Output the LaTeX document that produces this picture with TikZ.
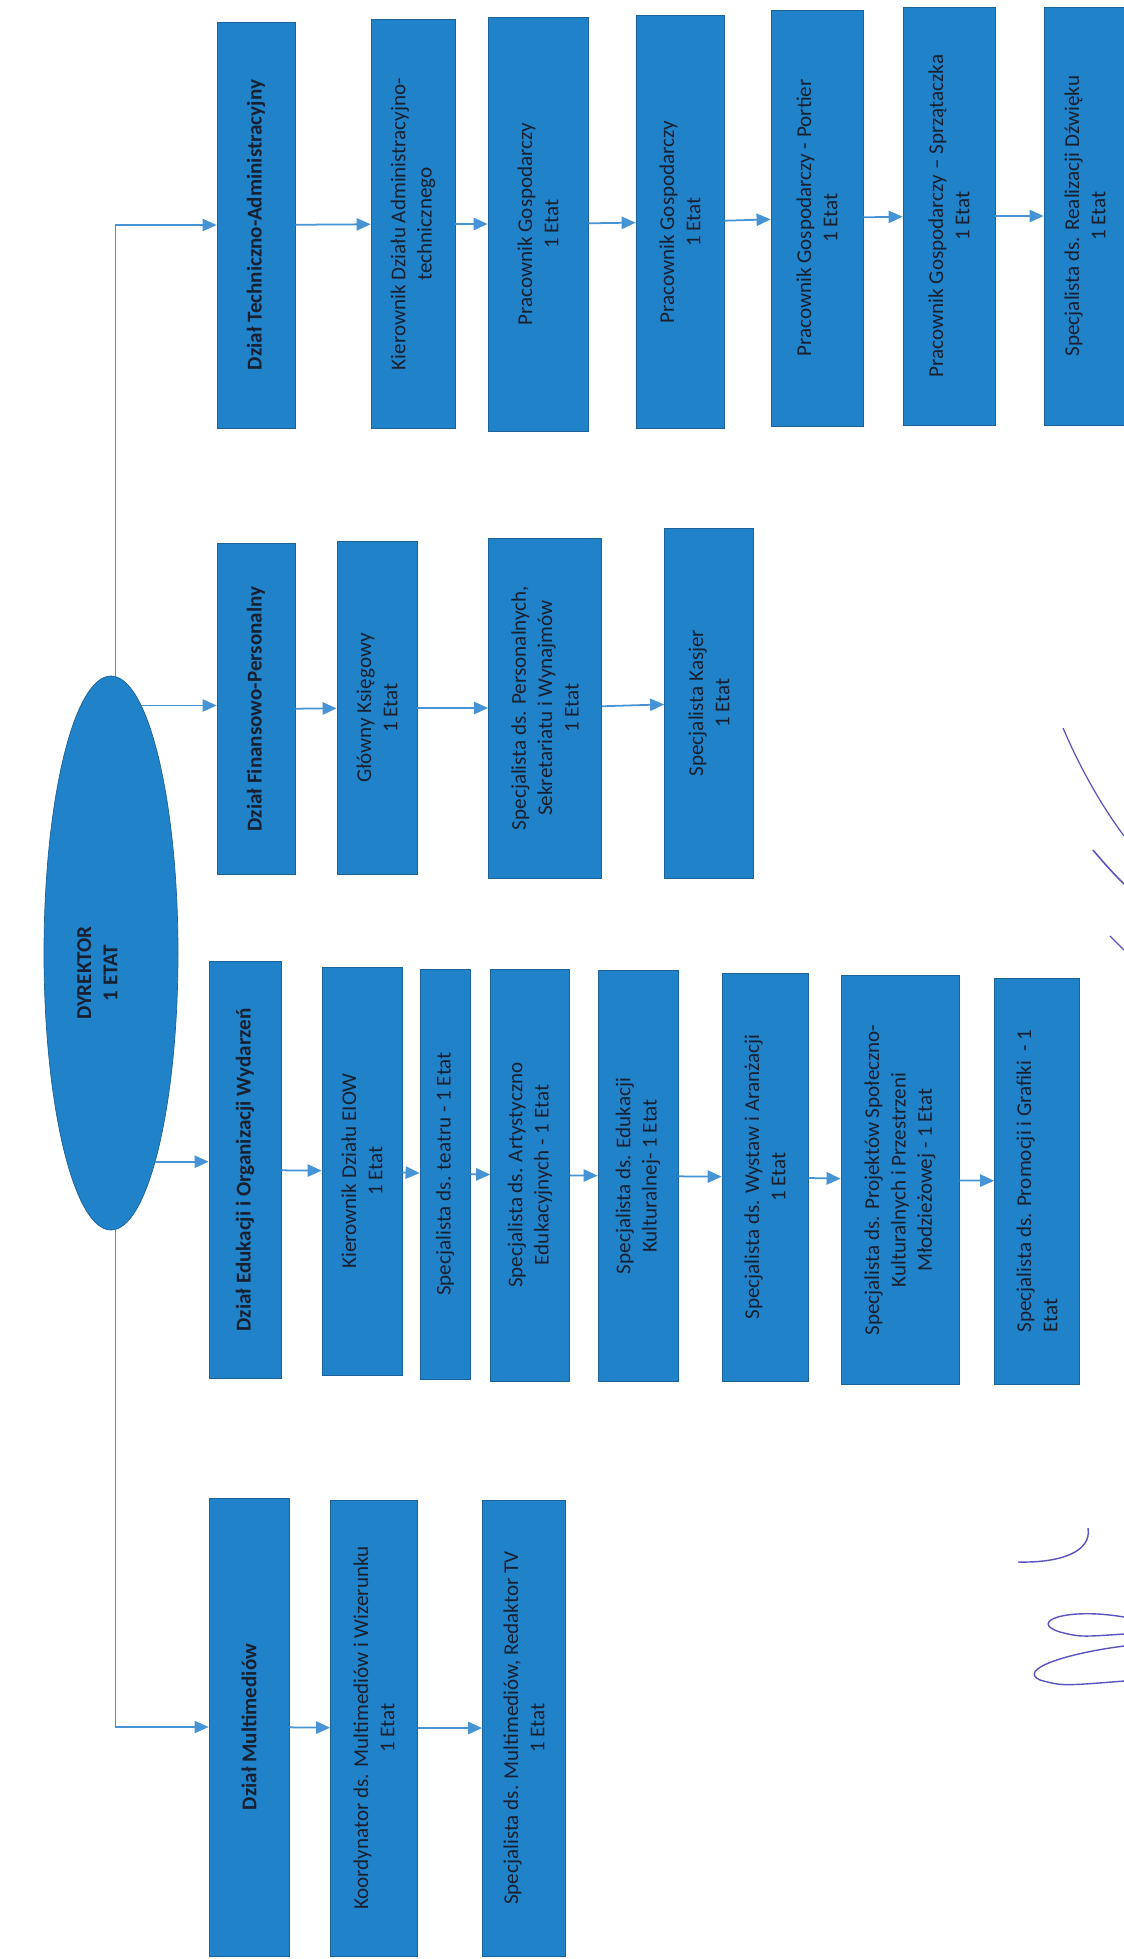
\documentclass[tikz,border=0pt]{standalone}
\usepackage{fontspec}
\setmainfont{Carlito}
\usetikzlibrary{arrows.meta,shapes.geometric}
\definecolor{orgblue}{RGB}{32,130,200}
\definecolor{orgedge}{RGB}{28,98,155}
\definecolor{orgtext}{RGB}{24,32,48}
\definecolor{orglink}{RGB}{70,148,214}
\definecolor{orgink}{RGB}{92,84,190}

\begin{document}
\begin{tikzpicture}[x=0.2mm, y=-0.2mm,
    stanowisko/.style={rotate=90, draw=orgedge, line width=0.4pt, fill=orgblue, text=orgtext,
      align=center, inner sep=1pt, font=\fontsize{12}{15}\selectfont},
    dzial/.style={stanowisko, font=\fontsize{12}{15}\selectfont\bfseries},
    rozm/.style 2 args={minimum width=#1*0.2mm, minimum height=#2*0.2mm},
    link/.style={orglink, line width=1pt, -{Triangle[length=8pt,width=7pt]}},
    pion/.style={link, line width=0.6pt}]
    % Tlo i rozmiar strony
    \fill[white] (0,0) rectangle (1124,1959);
    \useasboundingbox (0,0) rectangle (1124,1959);

    % Dyrektor
    \node[ellipse, fill=orgblue, draw=orgedge, minimum width=134*0.2mm, minimum height=554*0.2mm,
      inner sep=0pt, text=orgtext, font=\fontsize{12}{15}\selectfont\bfseries] (dyr) at (111,953)
      {\rotatebox{90}{\begin{tabular}{@{}c@{}}DYREKTOR\\1 ETAT\end{tabular}\hspace*{8mm}\rule[-9mm]{0pt}{9mm}}};

    % Dzial Techniczno-Administracyjny
    \node[dzial, rozm={406}{78}] (a0) at (256,225) {Dział Techniczno-Administracyjny};
    \node[stanowisko, rozm={409}{84}] (a1) at (413,224) {Kierownik Działu Administracyjno-\\technicznego};
    \node[stanowisko, rozm={414}{100}] (a2) at (538,224) {Pracownik Gospodarczy\\1 Etat};
    \node[stanowisko, rozm={413}{88}] (a3) at (680,222) {Pracownik Gospodarczy\\1 Etat};
    \node[stanowisko, rozm={416}{92}] (a4) at (817,218) {Pracownik Gospodarczy - Portier\\1 Etat};
    \node[stanowisko, rozm={418}{92}] (a5) at (949,216) {Pracownik Gospodarczy – Sprzątaczka\\1 Etat};
    \node[stanowisko, rozm={418}{82}] (a6) at (1085,216) {Specjalista ds. Realizacji Dźwięku\\1 Etat};

    % Dzial Finansowo-Personalny
    \node[dzial, rozm={331}{78}] (b0) at (256,709) {Dział Finansowo-Personalny};
    \node[stanowisko, rozm={333}{80}] (b1) at (377,708) {Główny Księgowy\\1 Etat};
    \node[stanowisko, rozm={340}{113}] (b2) at (545,708) {Specjalista ds. Personalnych,\\Sekretariatu i Wynajmów\\1 Etat};
    \node[stanowisko, rozm={350}{89}] (b3) at (709,703) {Specjalista Kasjer\\1 Etat};

    % Dzial Edukacji i Organizacji Wydarzen
    \node[dzial, rozm={417}{72}] (c0) at (245,1170) {Dział Edukacji i Organizacji Wydarzeń};
    \node[stanowisko, rozm={408}{80}] (c1) at (362,1171) {Kierownik Działu EIOW\\1 Etat};
    \node[stanowisko, rozm={410}{50}] (c2) at (445,1174) {Specjalista ds. teatru - 1 Etat};
    \node[stanowisko, rozm={412}{79}] (c3) at (530,1175) {Specjalista ds. Artystyczno\\Edukacyjnych - 1 Etat};
    \node[stanowisko, rozm={411}{80}] (c4) at (638,1176) {Specjalista ds. Edukacji\\Kulturalnej- 1 Etat};
    \node[stanowisko, rozm={408}{86}] (c5) at (765,1177) {Specjalista ds. Wystaw i Aranżacji\\1 Etat};
    \node[stanowisko, rozm={409}{118}] (c6) at (900,1180) {Specjalista ds. Projektów Społeczno-\\Kulturalnych i Przestrzeni\\Młodzieżowej - 1 Etat};
    \node[stanowisko, rozm={406}{85}, align=left] (c7) at (1037,1181) {Specjalista ds. Promocji i Grafiki~~- 1\\Etat};

    % Dzial Multimediow
    \node[dzial, rozm={458}{80}] (d0) at (249,1727) {Dział Multimediów};
    \node[stanowisko, rozm={456}{87}] (d1) at (374,1728) {Koordynator ds. Multimediów i Wizerunku\\1 Etat};
    \node[stanowisko, rozm={456}{83}] (d2) at (524,1728) {Specjalista ds. Multimediów, Redaktor TV\\1 Etat};

    % Polaczenia od dyrektora
    \draw[pion] (dyr.89) |- (a0.north);
    \draw[pion] (dyr.-89) |- (d0.north);
    \draw[link] (dyr.83) -- (b0.north |- dyr.83);
    \draw[link] (dyr.-78.5) -- (c0.north |- dyr.-78.5);

    % Polaczenia w dzialach
    \foreach \p/\q in {a0/a1,a1/a2,a2/a3,a3/a4,a4/a5,a5/a6,
                       b0/b1,b1/b2,b2/b3,
                       c0/c1,c1/c2,c2/c3,c3/c4,c4/c5,c5/c6,c6/c7,
                       d0/d1,d1/d2}
      \draw[link] (\p) -- (\q);

    % Podpis
    \draw[orgink, line width=0.7pt] (1063,728) .. controls (1082,772) and (1102,806) .. (1124,836);
    \draw[orgink, line width=0.9pt] (1093,850) .. controls (1103,862) and (1112,872) .. (1124,884);
    \draw[orgink, line width=0.7pt] (1110,936) -- (1124,950);
    \draw[orgink, line width=0.8pt] (1018,1562) .. controls (1060,1563) and (1092,1552) .. (1088,1528);
    \draw[orgink, line width=0.8pt] (1124,1617) .. controls (1065,1607) and (1028,1622) .. (1060,1632)
      .. controls (1080,1637) .. (1124,1634);
    \draw[orgink, line width=0.8pt] (1124,1646) .. controls (1062,1654) and (1018,1670) .. (1040,1680)
      .. controls (1062,1686) .. (1124,1681);
\end{tikzpicture}
\end{document}
